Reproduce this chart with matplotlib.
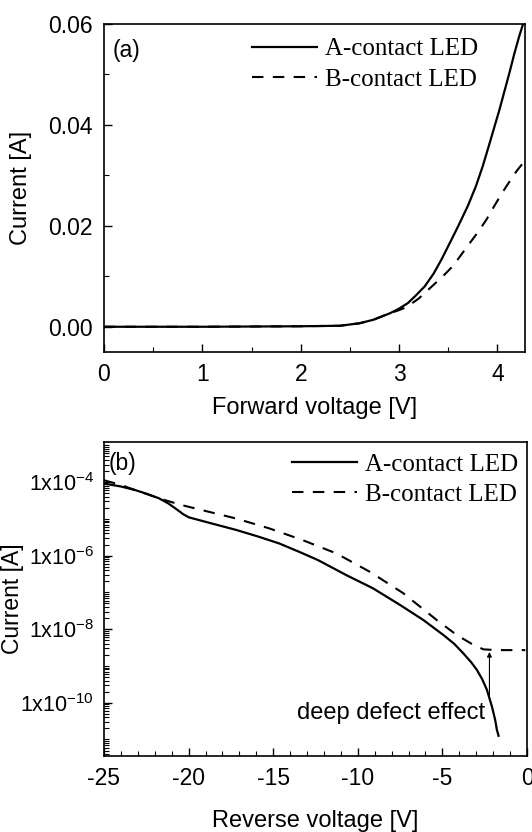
import matplotlib
matplotlib.use('Agg')
import matplotlib.pyplot as plt
from matplotlib.ticker import FixedLocator, MultipleLocator, LogLocator, FuncFormatter, NullFormatter
import numpy as np

plt.rcParams['font.family'] = ['Liberation Sans', 'DejaVu Sans']
plt.rcParams['mathtext.default'] = 'regular'
plt.rcParams['axes.unicode_minus'] = False

# (a) forward bias, linear scale
fwd_v_a = [0.0, 1.0, 2.0, 2.4, 2.60, 2.74, 2.91, 3.00, 3.09, 3.17, 3.26, 3.35, 3.43, 3.50, 3.60,
           3.70, 3.78, 3.85, 3.91, 4.02, 4.07, 4.12, 4.17, 4.22, 4.26]
fwd_i_a = [0.0, 0.0, 0.0001, 0.0002, 0.0007, 0.0014, 0.0027, 0.0036, 0.0047, 0.0062, 0.0080, 0.0105,
           0.0133, 0.0160, 0.0199, 0.0240, 0.0278, 0.0318, 0.0357, 0.0430, 0.0466, 0.0502, 0.0540,
           0.0575, 0.0600]
fwd_v_b = [0.0, 1.0, 2.0, 2.4, 2.60, 2.74, 2.91, 3.00, 3.05, 3.12, 3.20, 3.35, 3.45, 3.55, 3.70,
           3.80, 3.89, 3.97, 4.05, 4.13, 4.20, 4.25]
fwd_i_b = [0.0, 0.0, 0.0001, 0.0002, 0.0007, 0.0014, 0.0027, 0.0033, 0.0037, 0.0045, 0.0056, 0.0083,
           0.0101, 0.0121, 0.0161, 0.0187, 0.0213, 0.0240, 0.0266, 0.0290, 0.0310, 0.0322]

# (b) reverse bias, log scale (values as log10 of current)
rev_v_a = [-25.0, -24.0, -23.14, -22.4, -21.76, -21.2, -20.77, -20.3, -19.98, -18.6, -17.2, -15.9,
           -14.64, -13.5, -12.36, -10.68, -9.1, -7.51, -6.13, -4.94, -4.3, -3.76, -3.3, -2.96,
           -2.65, -2.37, -2.07, -1.88, -1.78, -1.68]
rev_log_a = [-4.04, -4.12, -4.22, -4.33, -4.44, -4.58, -4.72, -4.88, -4.96, -5.13, -5.30, -5.48,
             -5.67, -5.89, -6.12, -6.53, -6.89, -7.34, -7.75, -8.16, -8.40, -8.66, -8.90, -9.11,
             -9.36, -9.65, -10.11, -10.47, -10.74, -10.90]
rev_v_b = [-25.0, -24.0, -23.14, -21.56, -20.37, -18.79, -17.2, -15.23, -13.25, -11.27, -9.29, -7.32,
           -5.34, -4.15, -3.16, -2.57, -1.78, -0.1]
rev_log_b = [-3.95, -4.08, -4.22, -4.47, -4.63, -4.81, -4.99, -5.26, -5.58, -5.94, -6.44, -7.02,
             -7.75, -8.16, -8.43, -8.55, -8.57, -8.57]

labels = ['A-contact LED', 'B-contact LED']
arrow_v = -2.22
arrow_log = (-9.85, -8.62)

fig = plt.figure(figsize=(5.32, 8.32), dpi=100)
ax1 = fig.add_axes([104 / 532, 1 - 352 / 832, 421 / 532, 328 / 832])
ax2 = fig.add_axes([104 / 532, 1 - 756 / 832, 423 / 532, 314 / 832])

fs = 16.5
legfont = {'family': 'Liberation Serif', 'size': 18}

ax1.plot(fwd_v_a, fwd_i_a, 'k-', lw=1.6, label=labels[0])
ax1.plot(fwd_v_b, fwd_i_b, 'k--', lw=1.5, dashes=(5.5, 4.5), label=labels[1])
ax1.set_xlim(0, 4.28)
ax1.set_ylim(-0.005, 0.06)
ax1.xaxis.set_major_locator(MultipleLocator(1))
ax1.xaxis.set_minor_locator(MultipleLocator(0.5))
ax1.yaxis.set_major_locator(MultipleLocator(0.02))
ax1.yaxis.set_minor_locator(MultipleLocator(0.01))
ax1.yaxis.set_major_formatter(FuncFormatter(lambda v, p: '%.2f' % v))
ax1.set_xlabel('Forward voltage [V]', fontsize=fs + 0.5, labelpad=8)
ax1.set_ylabel('Current [A]', fontsize=fs + 0.5, labelpad=12)
ax1.text(0.02, 0.92, '(a)', transform=ax1.transAxes, fontsize=fs, va='center')
ax1.legend(loc='upper left', bbox_to_anchor=(0.352, 0.958), frameon=False, prop=legfont,
           handlelength=2.6, handletextpad=0.3, borderpad=0, borderaxespad=0, labelspacing=0.32)

ax2.plot(rev_v_a, 10 ** np.array(rev_log_a), 'k-', lw=1.6, label=labels[0])
ax2.plot(rev_v_b, 10 ** np.array(rev_log_b), 'k--', lw=1.5, dashes=(5.5, 4.5), label=labels[1])
ax2.set_yscale('log')
ax2.set_xlim(-25, 0)
ax2.set_ylim(10 ** -11.45, 10 ** -2.91)
ax2.xaxis.set_major_locator(MultipleLocator(5))
ax2.xaxis.set_minor_locator(MultipleLocator(1))
ax2.yaxis.set_major_locator(FixedLocator([1e-10, 1e-8, 1e-6, 1e-4]))
ax2.yaxis.set_minor_locator(LogLocator(base=10, subs=np.arange(1, 10), numticks=40))
ax2.yaxis.set_minor_formatter(NullFormatter())
ax2.yaxis.set_major_formatter(FuncFormatter(lambda v, p: '1x10$^{%d}$' % round(np.log10(v))))
ax2.xaxis.set_major_formatter(FuncFormatter(lambda v, p: '%d' % round(v)))
ax2.set_xlabel('Reverse voltage [V]', fontsize=fs + 0.5, labelpad=14)
ax2.set_ylabel('Current [A]', fontsize=fs)
ax2.yaxis.set_label_coords(-0.19, 0.5)
ax2.text(0.012, 0.93, '(b)', transform=ax2.transAxes, fontsize=fs, va='center')
ax2.legend(loc='upper left', bbox_to_anchor=(0.445, 0.963), frameon=False, prop=legfont,
           handlelength=2.6, handletextpad=0.3, borderpad=0, borderaxespad=0, labelspacing=0.3)

ax2.annotate('', xy=(arrow_v, 10 ** arrow_log[1]), xytext=(arrow_v, 10 ** arrow_log[0]),
             arrowprops=dict(arrowstyle='-|>', lw=0.8, color='k', mutation_scale=7, shrinkA=0, shrinkB=0))
ax2.text(-2.5, 10 ** -10.28, 'deep defect effect', ha='right', va='center', fontsize=fs + 0.5)

for ax in (ax1, ax2):
    ax.tick_params(which='both', direction='in', top=False, right=False, labelsize=fs, pad=8)
    ax.tick_params(which='major', length=6, width=1)
    ax.tick_params(which='minor', length=3.5, width=0.8)
    for s in ax.spines.values():
        s.set_linewidth(1.2)
ax2.tick_params(axis='y', labelsize=15.5, pad=7)

plt.savefig('out.png', dpi=100)
